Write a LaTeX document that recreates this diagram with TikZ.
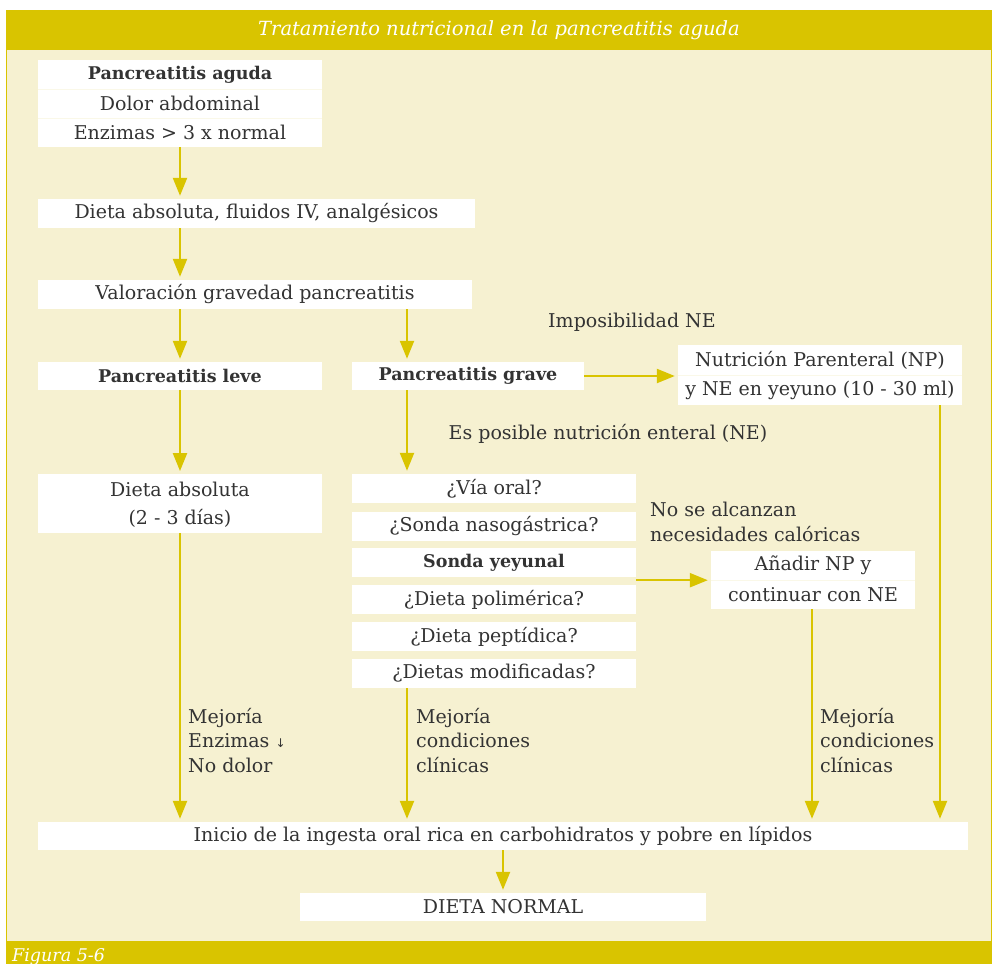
\documentclass[tikz,border=0pt]{standalone}
\usepackage{fontspec}
\setmainfont{DejaVu Serif}
\newfontfamily\arrowfont{DejaVu Sans}
\usetikzlibrary{arrows.meta,calc}
\definecolor{gold}{HTML}{D9C400}
\definecolor{cream}{HTML}{F6F1D1}
\definecolor{ink}{HTML}{333333}
\newcommand{\bodyfont}{\fontsize{19}{24.5}\selectfont}
\tikzset{
  box/.style={fill=white, inner sep=0pt, minimum height=29pt, text=ink,
    font=\bodyfont, anchor=center},
  strongbox/.style={box, font=\fontsize{17.5}{21}\selectfont\bfseries},
  flow/.style={draw=gold, line width=2.3pt,
    -{Triangle[length=18pt,width=14pt]}, shorten >=3pt},
  note/.style={text=ink, font=\bodyfont, inner sep=0pt, align=left,
    anchor=north west},
  rowline/.style={draw=cream!50, line width=0.6pt},
}
\begin{document}
\begin{tikzpicture}[x=1pt, y=-1pt]
  % page and frame
  \fill[white] (0,0) rectangle (994,964);
  \useasboundingbox (0,0) rectangle (994,964);
  \fill[gold] (6,10) rectangle (992,964);
  \fill[cream] (7.2,50) rectangle (990.8,941);
  \node[text=white, inner sep=0pt, font=\fontsize{19.5}{21}\selectfont\itshape]
    (title) at (499,30) {Tratamiento nutricional en la pancreatitis aguda};
  \node[text=white, inner sep=0pt, anchor=base west,
    font=\fontsize{17.5}{21}\selectfont\itshape]
    (fig) at (12,961) {Figura 5-6};

  % column positions of the vertical connectors
  \coordinate (colL) at (180,0);
  \coordinate (colB) at (407,0);
  \coordinate (colC) at (812,0);
  \coordinate (colD) at (940,0);
  \coordinate (colE) at (503,0);

  % left column
  \node[strongbox, minimum width=284] (pa1) at (180,74.5) {Pancreatitis aguda};
  \node[box, minimum width=284] (pa2) at (180,103.5) {Dolor abdominal};
  \node[box, minimum width=284] (pa3) at (180,132.5) {Enzimas > 3 x normal};
  \draw[rowline] (pa1.south west) -- (pa1.south east);
  \draw[rowline] (pa2.south west) -- (pa2.south east);

  \node[box, minimum width=437] (diet) at (256.5,213.5)
    {Dieta absoluta, fluidos IV, analgésicos};
  \node[box, minimum width=434] (val) at (255,294.5)
    {Valoración gravedad pancreatitis};

  \node[strongbox, minimum width=284, minimum height=28] (leve) at (180,376)
    {Pancreatitis leve};
  \node[strongbox, minimum width=232, minimum height=28] (grave) at (468,376)
    {Pancreatitis grave};

  \node[box, minimum width=284, minimum height=30] (np1) at (820,360)
    {Nutrición Parenteral (NP)};
  \node[box, minimum width=284, minimum height=30] (np2) at (820,390)
    {y NE en yeyuno (10 - 30 ml)};
  \draw[rowline] (np1.south west) -- (np1.south east);

  \node[box, minimum width=284, minimum height=29.5] (dab1) at (180,489)
    {Dieta absoluta};
  \node[box, minimum width=284, minimum height=29.5] (dab2) at (180,518)
    {(2 - 3 días)};

  % enteral route options
  \node[box, minimum width=284] (r1) at (494,488.5) {¿Vía oral?};
  \node[box, minimum width=284] (r2) at (494,526.5) {¿Sonda nasogástrica?};
  \node[strongbox, minimum width=284, minimum height=29] (r3) at (494,562.5) {Sonda yeyunal};
  \node[box, minimum width=284] (r4) at (494,599.5) {¿Dieta polimérica?};
  \node[box, minimum width=284] (r5) at (494,636.5) {¿Dieta peptídica?};
  \node[box, minimum width=284] (r6) at (494,673.5) {¿Dietas modificadas?};

  \node[box, minimum width=204] (an1) at (813,565.5) {Añadir NP y};
  \node[box, minimum width=204] (an2) at (813,594.5) {continuar con NE};
  \draw[rowline] (an1.south west) -- (an1.south east);

  \node[box, minimum width=930, minimum height=28] (ini) at (503,836)
    {Inicio de la ingesta oral rica en carbohidratos y pobre en lípidos};
  \node[box, minimum width=406, minimum height=28] (norm) at (503,907)
    {DIETA NORMAL};

  % connectors
  \draw[flow] (pa3.south -| colL) -- (diet.north -| colL);
  \draw[flow] (diet.south -| colL) -- (val.north -| colL);
  \draw[flow] (val.south -| colL) -- (leve.north -| colL);
  \draw[flow] (val.south -| colB) -- (grave.north -| colB);
  \draw[flow] (grave.east) -- (grave.east -| np1.west);
  \draw[flow] (grave.south -| colB) -- (r1.north -| colB);
  \draw[flow] (leve.south -| colL) -- (dab1.north -| colL);
  \draw[flow] (dab2.south -| colL) -- (ini.north -| colL);
  \draw[flow] (r6.south -| colB) -- (ini.north -| colB);
  \draw[flow] (r1.east |- an1.south) -- (an1.south west);
  \draw[flow] (an2.south -| colC) -- (ini.north -| colC);
  \draw[flow] (np2.south -| colD) -- (ini.north -| colD);
  \draw[flow] (ini.south -| colE) -- (norm.north -| colE);

  % connector labels
  \node[text=ink, font=\bodyfont, inner sep=0pt] (lab1) at (632,322) {Imposibilidad NE};
  \node[text=ink, font=\bodyfont, inner sep=0pt] (lab2) at (608,434)
    {Es posible nutrición enteral (NE)};
  \node[note] (lab3) at (650,502) {No se alcanzan\\necesidades calóricas};
  \node[note] (lab4) at (188,708)
    {Mejoría\\Enzimas {\arrowfont\fontsize{12}{12}\selectfont ↓}\\No dolor};
  \node[note] (lab5) at (416,708) {Mejoría\\condiciones\\clínicas};
  \node[note] (lab6) at (820,708) {Mejoría\\condiciones\\clínicas};
\end{tikzpicture}
\end{document}
